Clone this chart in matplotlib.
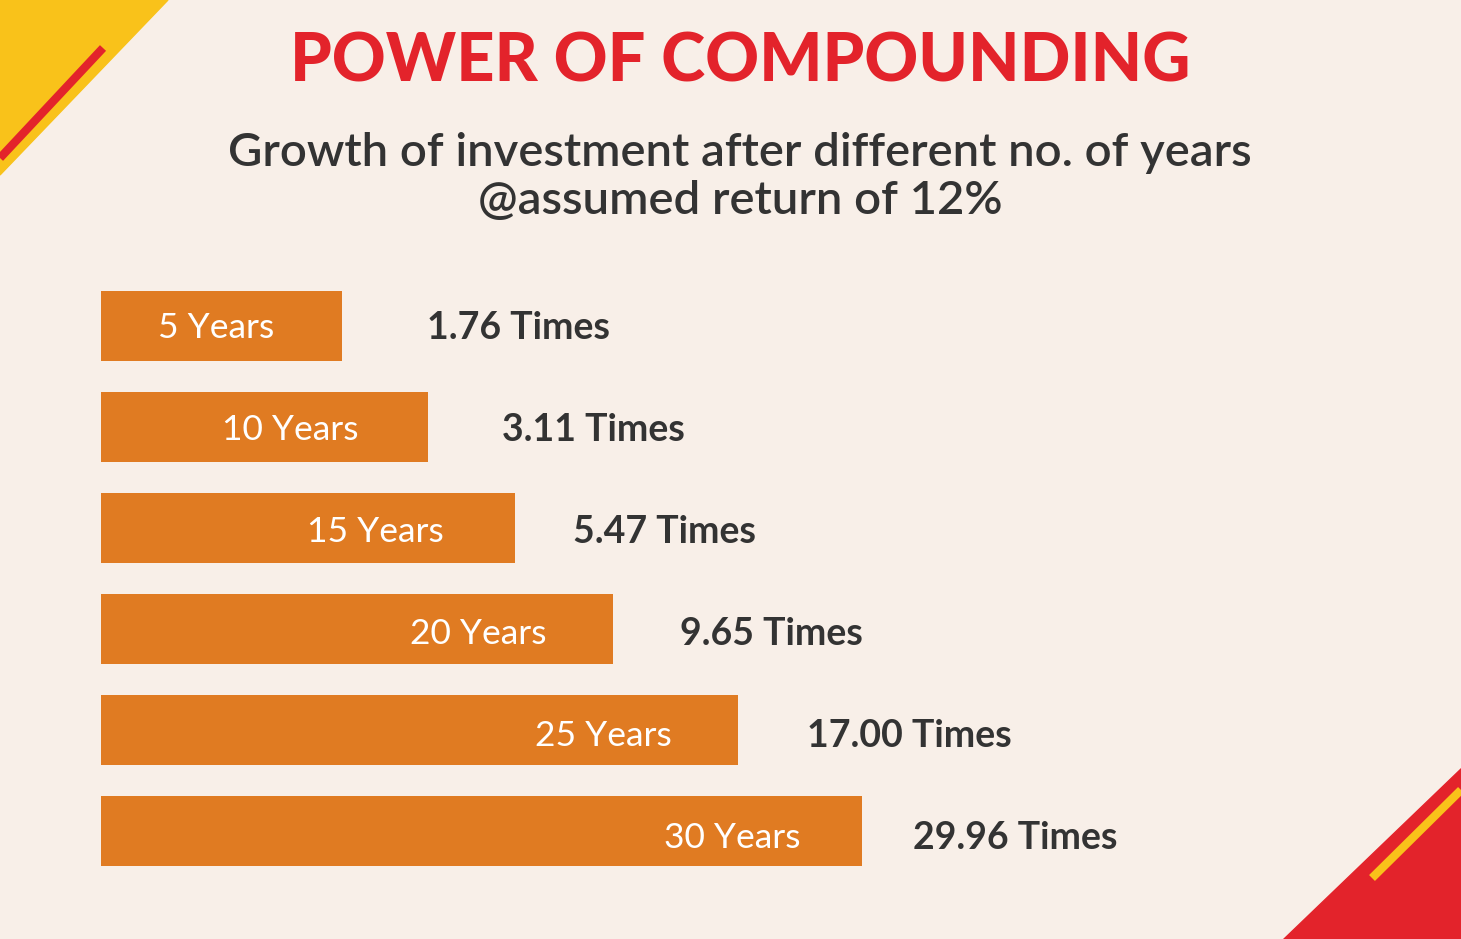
import matplotlib
matplotlib.use("Agg")
import matplotlib.pyplot as plt
from matplotlib.patches import Polygon

years = ["5 Years", "10 Years", "15 Years", "20 Years", "25 Years", "30 Years"]
multiples = [1.76, 3.11, 5.47, 9.65, 17.00, 29.96]
# bar lengths as drawn (not proportional to multiples), in canvas units
bar_lengths = [241, 327, 414, 512, 637, 761]

BG = "#F8EFE8"
ORANGE = "#E07B22"
RED = "#E3232B"
YELLOW = "#F9C21A"
DARK = "#333333"

fig = plt.figure(figsize=(14.61, 9.39), dpi=100, facecolor=BG)
ax = fig.add_axes([0, 0, 1, 1])
ax.set_facecolor(BG)
ax.set_xlim(0, 1461)
ax.set_ylim(939, 0)
ax.axis("off")

# corner decorations
ax.add_patch(Polygon([(0, 0), (168, 0), (0, 175)], color=YELLOW, zorder=1))
ax.plot([103, 0], [48, 158], color=RED, lw=6, solid_capstyle="butt", zorder=2)
ax.add_patch(Polygon([(1461, 768), (1461, 939), (1283, 939)], color=RED, zorder=1))
ax.plot([1372, 1461], [878, 790], color=YELLOW, lw=6, solid_capstyle="butt", zorder=2)

ax.text(740, 62, "POWER OF COMPOUNDING", ha="center", va="center",
        fontsize=48, fontweight="black", color=RED, family="Lato")
ax.text(740, 153, "Growth of investment after different no. of years",
        ha="center", va="center", fontsize=34, color=DARK, family="Lato", fontweight="semibold")
ax.text(740, 201, "@assumed return of 12%",
        ha="center", va="center", fontsize=34, color=DARK, family="Lato", fontweight="semibold")

x0 = 101
centers = [326 + 101 * i for i in range(len(years))]
label_gap = [68, 70, 71, 66, 66, 61]
value_gap = [85, 74, 58, 67, 69, 51]
ax.barh(centers, bar_lengths, left=x0, height=70, color=ORANGE, zorder=3)
for i, (c, lab, m, L) in enumerate(zip(centers, years, multiples, bar_lengths)):
    ax.text(x0 + L - label_gap[i], c + 2 + i, lab, ha="right", va="center",
            fontsize=25.5, color="white", family="Lato", zorder=4)
    ax.text(x0 + L + value_gap[i], c + 2 + i, f"{m:.2f} Times", ha="left", va="center",
            fontsize=27, fontweight="bold", color=DARK, family="Lato")

fig.savefig("out.png", dpi=100, facecolor=BG)
